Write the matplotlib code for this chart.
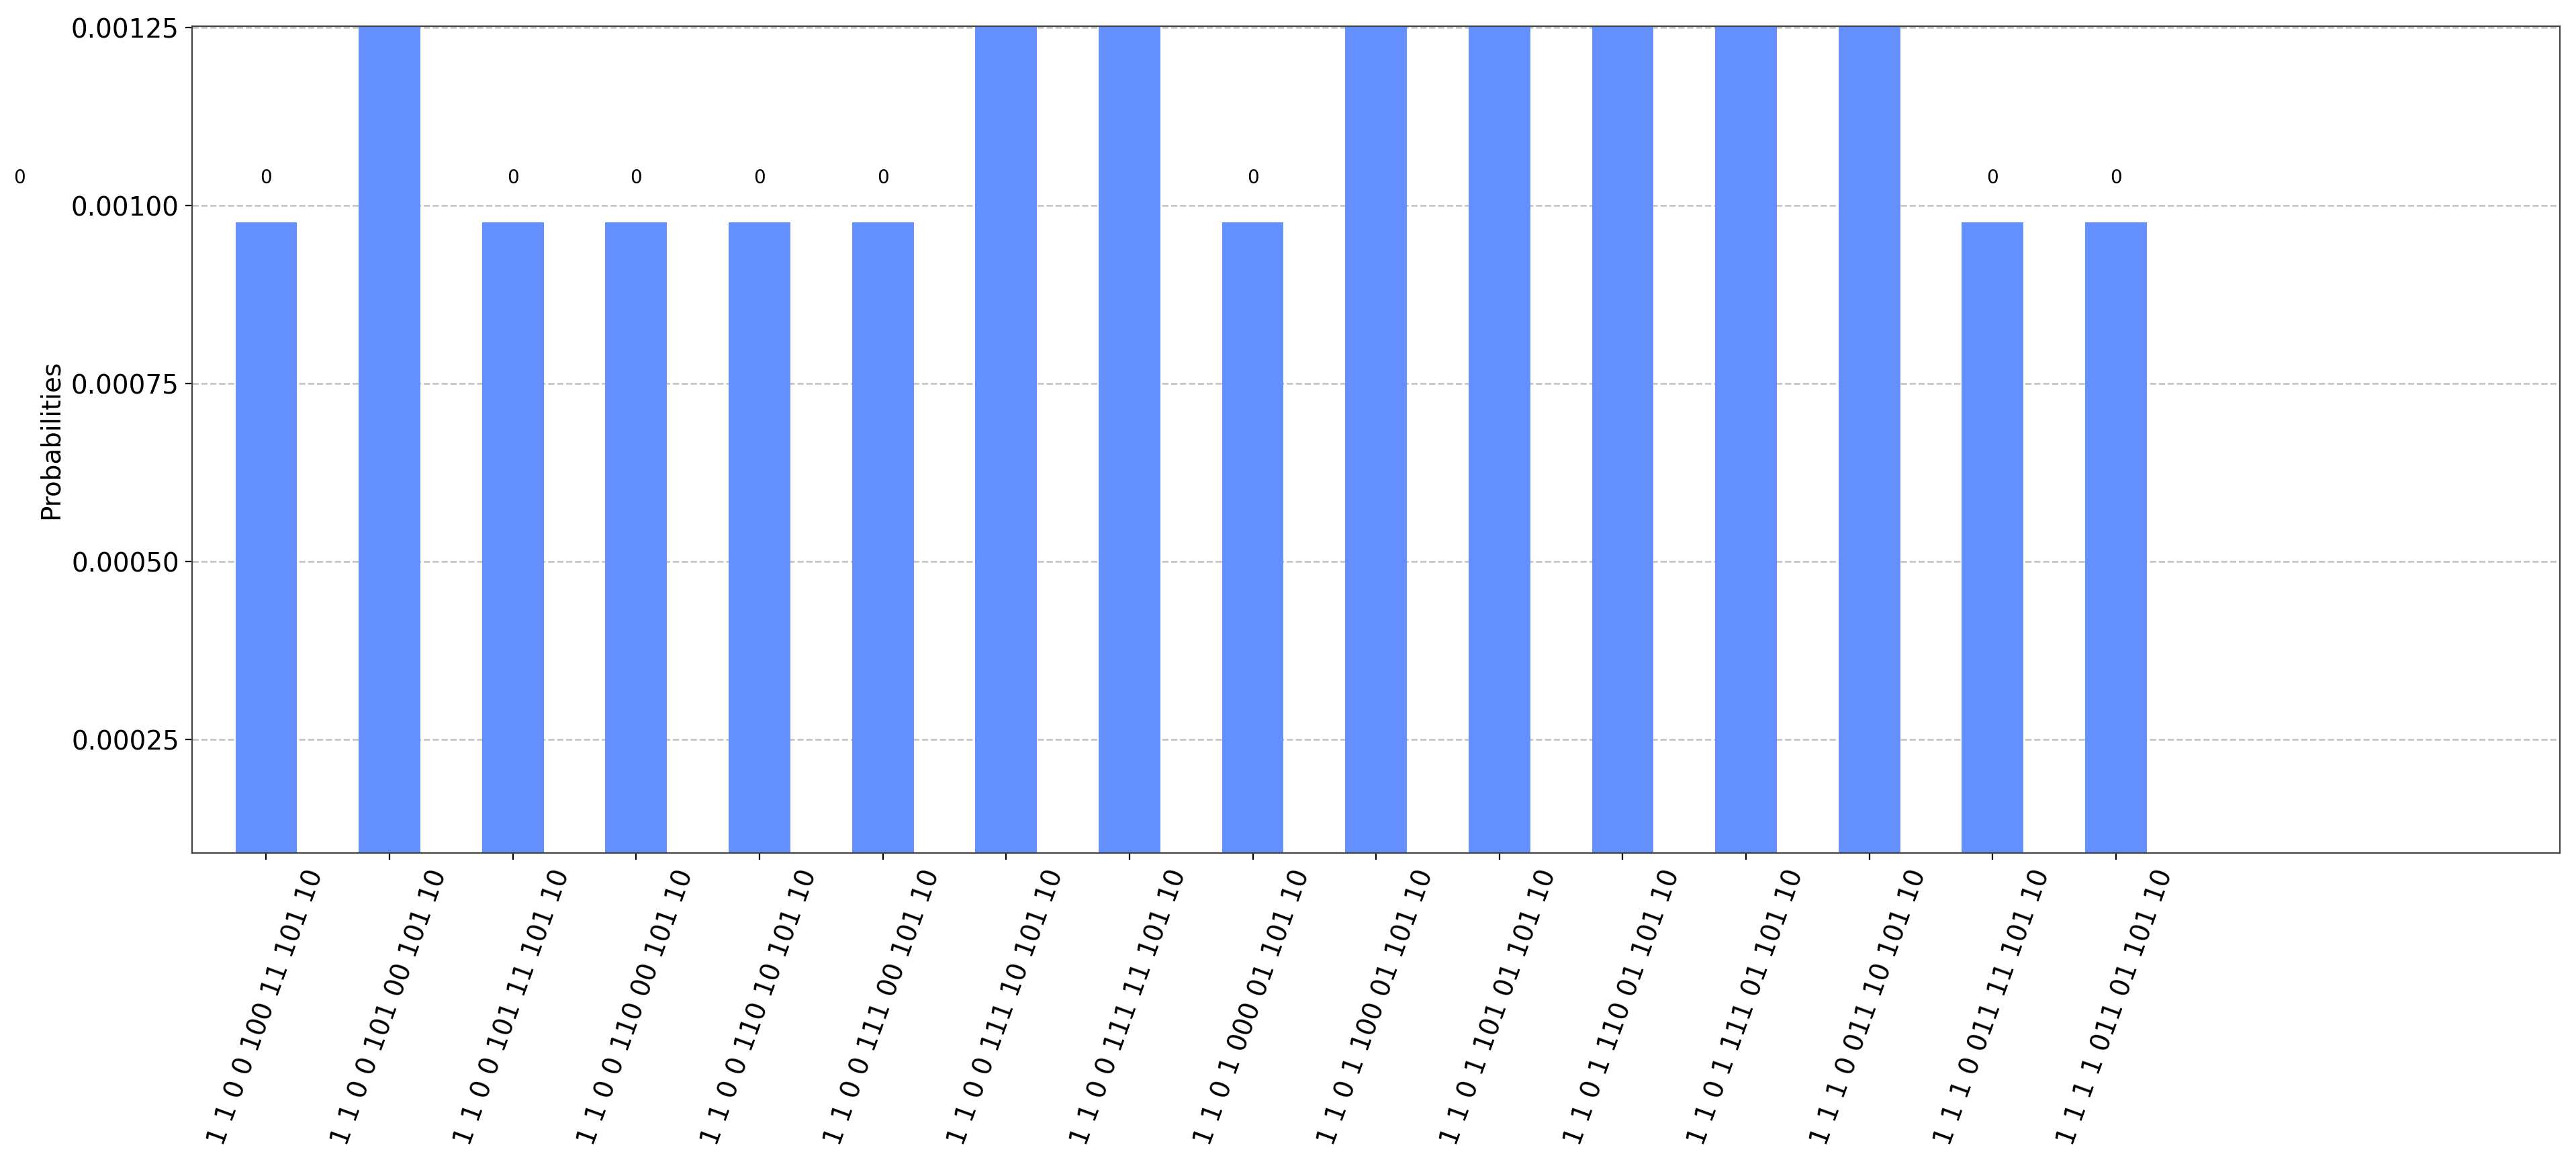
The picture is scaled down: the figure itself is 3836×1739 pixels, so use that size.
import matplotlib
matplotlib.use("Agg")
import matplotlib.pyplot as plt
from matplotlib.ticker import FormatStrFormatter

# measured outcomes (bitstrings) and their probabilities
labels = [
    "1 1 0 0 100 11 101 10",
    "1 1 0 0 101 00 101 10",
    "1 1 0 0 101 11 101 10",
    "1 1 0 0 110 00 101 10",
    "1 1 0 0 110 10 101 10",
    "1 1 0 0 111 00 101 10",
    "1 1 0 0 111 10 101 10",
    "1 1 0 0 111 11 101 10",
    "1 1 0 1 000 01 101 10",
    "1 1 0 1 100 01 101 10",
    "1 1 0 1 101 01 101 10",
    "1 1 0 1 110 01 101 10",
    "1 1 0 1 111 01 101 10",
    "1 1 1 0 011 10 101 10",
    "1 1 1 0 011 11 101 10",
    "1 1 1 1 011 01 101 10",
]
probs = [0.000977, 0.001953, 0.000977, 0.000977, 0.000977, 0.000977, 0.001953, 0.001953,
         0.000977, 0.001953, 0.001953, 0.001953, 0.001953, 0.001953, 0.000977, 0.000977]
bar_text = "0"
yticks = [0.00025, 0.00050, 0.00075, 0.00100, 0.00125]

fig = plt.figure(figsize=(19.185, 8.695), dpi=200)
ax = fig.add_axes([0.0746, 0.2697, 0.9189, 0.7079])

x = list(range(len(labels)))
rects = ax.bar(x, probs, width=0.5, color="#648fff", zorder=2)

ax.set_xlim(-0.6, 18.6)
ax.set_ylim(0.000091, 0.001252)
ymax = ax.get_ylim()[1]

for rect in rects:
    h = rect.get_height()
    if 1.05 * h > ymax:
        # label would sit above the figure, not visible in the original
        continue
    ax.text(rect.get_x() + rect.get_width() / 2., 1.05 * h, bar_text,
            ha="center", va="bottom", fontsize=10, clip_on=False)
# stray label left of the axes
ax.text(-2, 1.05 * probs[0], bar_text, ha="center", va="bottom", fontsize=10, clip_on=False)

ax.set_xticks(x)
ax.set_xticklabels(labels, fontsize=14, rotation=70)
ax.set_yticks(yticks)
ax.yaxis.set_major_formatter(FormatStrFormatter("%.5f"))
ax.tick_params(axis="y", labelsize=14)
ax.set_ylabel("Probabilities", fontsize=14)
ax.yaxis.grid(True, linestyle="--", color="#c0c0c0", linewidth=0.9, zorder=0)
ax.set_axisbelow(True)
for s in ax.spines.values():
    s.set_color("#444444")

fig.savefig("out.png", dpi=200)
